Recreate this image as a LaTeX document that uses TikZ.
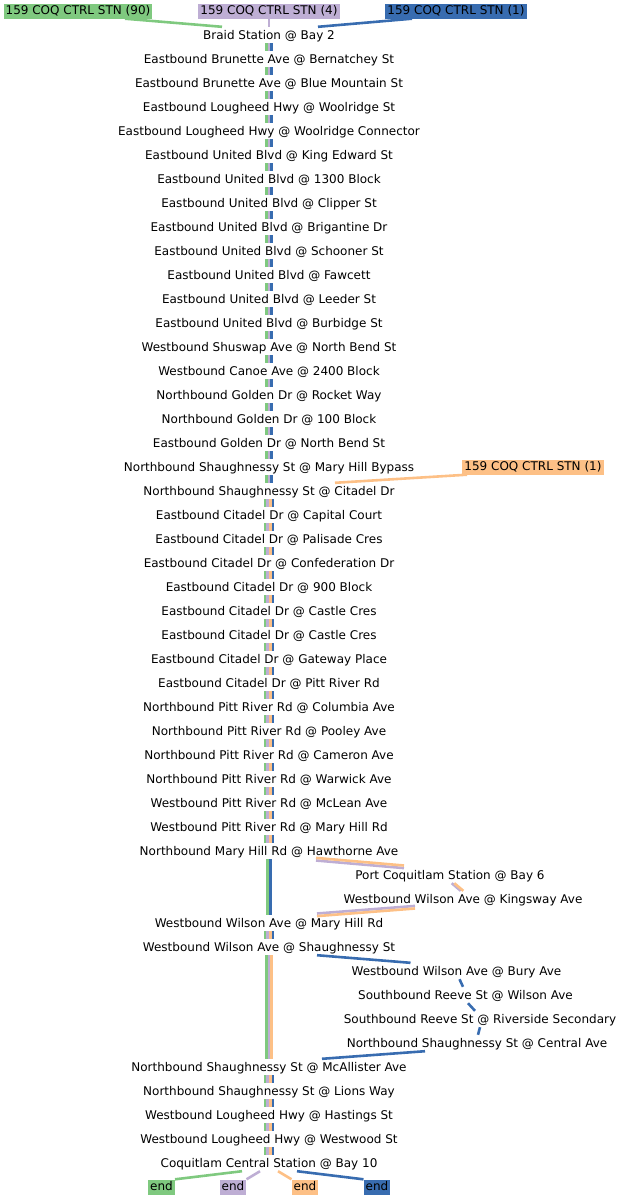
\documentclass[tikz,border=0pt]{standalone}
\usepackage{fontspec}
\setmainfont{DejaVu Sans}

\definecolor{routegreen}{HTML}{7FC97F}
\definecolor{routepurple}{HTML}{BEAED4}
\definecolor{routeorange}{HTML}{FDC086}
\definecolor{routeblue}{HTML}{386CB0}

\tikzset{
  stop/.style={font=\fontsize{12}{14}\selectfont, text height=10pt, text depth=2pt,
    inner xsep=2pt, inner ysep=2pt},
  tag/.style={stop, text height=9pt, text depth=3pt, inner ysep=1.5pt},
  lane/.style={line width=2.6pt},
}

\begin{document}
\begin{tikzpicture}[x=1pt,y=-1pt]
\useasboundingbox (0,0) rectangle (623,1200);

% Stops on the main column
\foreach \txt [count=\i] in {Braid Station @ Bay 2,
  Eastbound Brunette Ave @ Bernatchey St,
  Eastbound Brunette Ave @ Blue Mountain St,
  Eastbound Lougheed Hwy @ Woolridge St,
  Eastbound Lougheed Hwy @ Woolridge Connector,
  Eastbound United Blvd @ King Edward St,
  Eastbound United Blvd @ 1300 Block,
  Eastbound United Blvd @ Clipper St,
  Eastbound United Blvd @ Brigantine Dr,
  Eastbound United Blvd @ Schooner St,
  Eastbound United Blvd @ Fawcett,
  Eastbound United Blvd @ Leeder St,
  Eastbound United Blvd @ Burbidge St,
  Westbound Shuswap Ave @ North Bend St,
  Westbound Canoe Ave @ 2400 Block,
  Northbound Golden Dr @ Rocket Way,
  Northbound Golden Dr @ 100 Block,
  Eastbound Golden Dr @ North Bend St,
  Northbound Shaughnessy St @ Mary Hill Bypass,
  Northbound Shaughnessy St @ Citadel Dr,
  Eastbound Citadel Dr @ Capital Court,
  Eastbound Citadel Dr @ Palisade Cres,
  Eastbound Citadel Dr @ Confederation Dr,
  Eastbound Citadel Dr @ 900 Block,
  Eastbound Citadel Dr @ Castle Cres,
  Eastbound Citadel Dr @ Castle Cres,
  Eastbound Citadel Dr @ Gateway Place,
  Eastbound Citadel Dr @ Pitt River Rd,
  Northbound Pitt River Rd @ Columbia Ave,
  Northbound Pitt River Rd @ Pooley Ave,
  Northbound Pitt River Rd @ Cameron Ave,
  Northbound Pitt River Rd @ Warwick Ave,
  Westbound Pitt River Rd @ McLean Ave,
  Westbound Pitt River Rd @ Mary Hill Rd,
  Northbound Mary Hill Rd @ Hawthorne Ave}
  \node[stop] (st\i) at (269,{11+24*\i}) {\txt};

% Detours and the last stops
\node[stop] (st36) at (450,875) {Port Coquitlam Station @ Bay 6};
\node[stop] (st37) at (463,899) {Westbound Wilson Ave @ Kingsway Ave};
\node[stop] (st38) at (269,923) {Westbound Wilson Ave @ Mary Hill Rd};
\node[stop] (st39) at (269,947) {Westbound Wilson Ave @ Shaughnessy St};
\node[stop] (st40) at (456.5,971) {Westbound Wilson Ave @ Bury Ave};
\node[stop] (st41) at (465.5,995) {Southbound Reeve St @ Wilson Ave};
\node[stop] (st42) at (480,1019) {Southbound Reeve St @ Riverside Secondary};
\node[stop] (st43) at (477,1043) {Northbound Shaughnessy St @ Central Ave};
\node[stop] (st44) at (269,1067) {Northbound Shaughnessy St @ McAllister Ave};
\node[stop] (st45) at (269,1091) {Northbound Shaughnessy St @ Lions Way};
\node[stop] (st46) at (269,1115) {Westbound Lougheed Hwy @ Hastings St};
\node[stop] (st47) at (269,1139) {Westbound Lougheed Hwy @ Westwood St};
\node[stop] (st48) at (269,1163) {Coquitlam Central Station @ Bay 10};

% Start tags
\node[tag,fill=routegreen] (greenstart) at (78,11) {159 COQ CTRL STN (90)};
\node[tag,fill=routepurple] (purplestart) at (269,11) {159 COQ CTRL STN (4)};
\node[tag,fill=routeblue] (bluestart) at (456,11) {159 COQ CTRL STN (1)};
\node[tag,fill=routeorange] (orangestart) at (533,467) {159 COQ CTRL STN (1)};

% End tags
\node[tag,fill=routegreen] (greenend) at (161.5,1187) {end};
\node[tag,fill=routepurple] (purpleend) at (233,1187) {end};
\node[tag,fill=routeorange] (orangeend) at (305,1187) {end};
\node[tag,fill=routeblue] (blueend) at (377,1187) {end};

% Into the first stops
\draw[lane,routegreen] ([xshift=47pt]greenstart.south) -- ([xshift=-47pt]st1.north);
\draw[lane,routepurple] (purplestart.south) -- (st1.north);
\draw[lane,routeblue] ([xshift=-44pt]bluestart.south) -- ([xshift=49pt]st1.north);
\draw[lane,routeorange] ([xshift=-66pt]orangestart.south) -- ([xshift=66pt]st20.north);

% Three routes
\foreach \i in {1,...,19}{
  \pgfmathtruncatemacro{\j}{\i+1}
  \draw[lane,routegreen] ([xshift=-2.6pt]st\i.south) -- ([xshift=-2.6pt]st\j.north);
  \draw[lane,routepurple] (st\i.south) -- (st\j.north);
  \draw[lane,routeblue] ([xshift=2.6pt]st\i.south) -- ([xshift=2.6pt]st\j.north);
}

% Four routes
\foreach \i in {20,21,22,23,24,25,26,27,28,29,30,31,32,33,34,38,44,45,46,47}{
  \pgfmathtruncatemacro{\j}{\i+1}
  \draw[lane,routegreen] ([xshift=-3.9pt]st\i.south) -- ([xshift=-3.9pt]st\j.north);
  \draw[lane,routepurple] ([xshift=-1.3pt]st\i.south) -- ([xshift=-1.3pt]st\j.north);
  \draw[lane,routeorange] ([xshift=1.3pt]st\i.south) -- ([xshift=1.3pt]st\j.north);
  \draw[lane,routeblue] ([xshift=3.9pt]st\i.south) -- ([xshift=3.9pt]st\j.north);
}

% Port Coquitlam loop
\draw[lane,routegreen] ([xshift=-1.3pt]st35.south) -- ([xshift=-1.3pt]st38.north);
\draw[lane,routeblue] ([xshift=1.3pt]st35.south) -- ([xshift=1.3pt]st38.north);
\draw[lane,routepurple] ([xshift=47pt,yshift=-1.3pt]st35.south) -- ([xshift=-46pt,yshift=-1.3pt]st36.north);
\draw[lane,routeorange] ([xshift=47pt,yshift=1.3pt]st35.south) -- ([xshift=-46pt,yshift=1.3pt]st36.north);
\draw[lane,routepurple] ([xshift=1.7pt]st36.south) -- ([xshift=-2.3pt]st37.north);
\draw[lane,routeorange] ([xshift=4.3pt]st36.south) -- ([xshift=0.3pt]st37.north);
\draw[lane,routepurple] ([xshift=-48pt,yshift=1.3pt]st37.south) -- ([xshift=48pt,yshift=1.3pt]st38.north);
\draw[lane,routeorange] ([xshift=-48pt,yshift=-1.3pt]st37.south) -- ([xshift=48pt,yshift=-1.3pt]st38.north);

% Reeve St loop
\draw[lane,routegreen] ([xshift=-2.6pt]st39.south) -- ([xshift=-2.6pt]st44.north);
\draw[lane,routepurple] (st39.south) -- (st44.north);
\draw[lane,routeorange] ([xshift=2.6pt]st39.south) -- ([xshift=2.6pt]st44.north);
\draw[lane,routeblue] ([xshift=48pt]st39.south) -- ([xshift=-46pt]st40.north);
\draw[lane,routeblue] ([xshift=3pt]st40.south) -- ([xshift=-2.5pt]st41.north);
\draw[lane,routeblue] ([xshift=2.5pt]st41.south) -- ([xshift=-5pt]st42.north);
\draw[lane,routeblue] (st42.south) -- ([xshift=1pt]st43.north);
\draw[lane,routeblue] ([xshift=-52pt]st43.south) -- ([xshift=53pt]st44.north);

% Out to the ends
\draw[lane,routegreen] ([xshift=-27pt]st48.south) -- (greenend.north east);
\draw[lane,routepurple] ([xshift=-9pt]st48.south) -- (purpleend.north east);
\draw[lane,routeorange] ([xshift=9pt]st48.south) -- (orangeend.north west);
\draw[lane,routeblue] ([xshift=28pt]st48.south) -- (blueend.north west);
\end{tikzpicture}
\end{document}
